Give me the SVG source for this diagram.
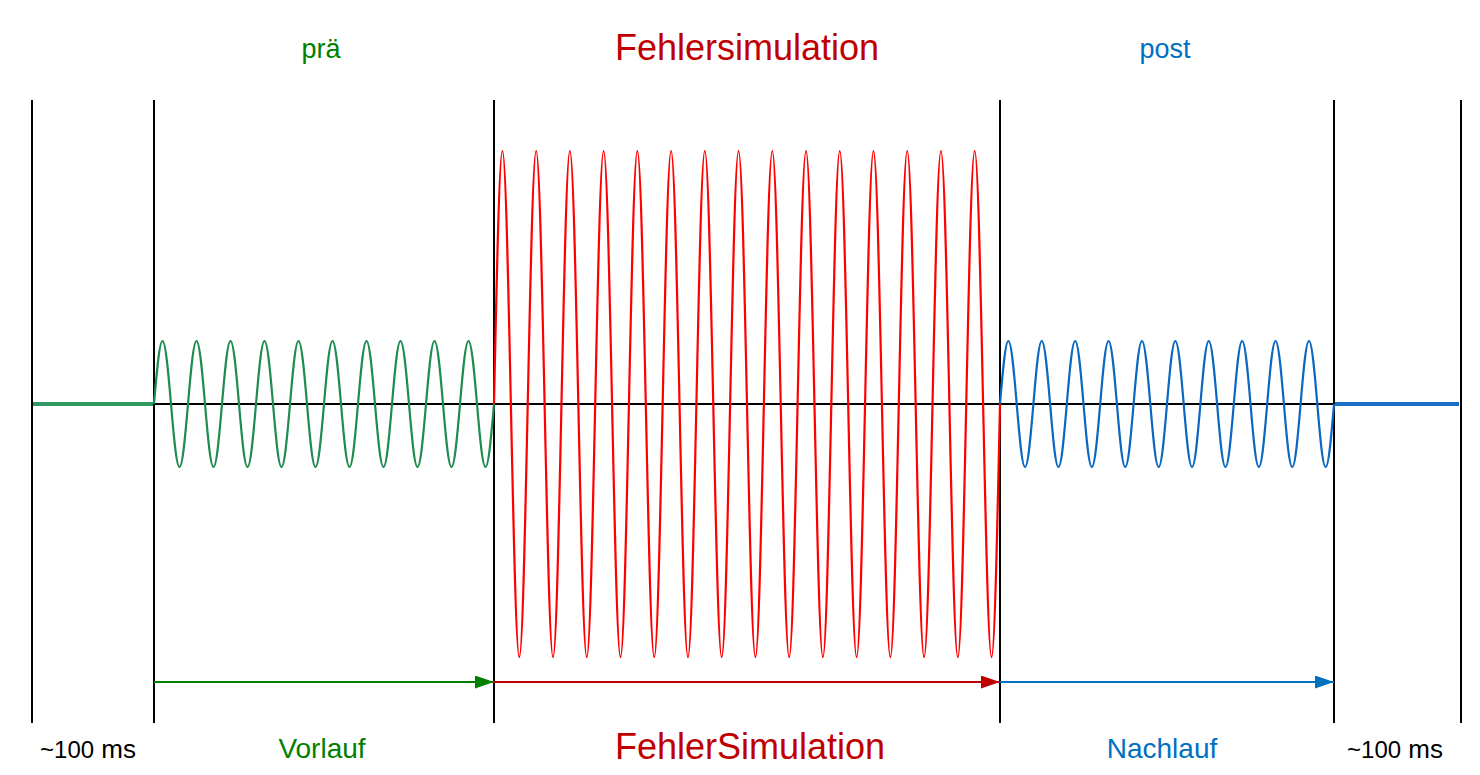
<svg xmlns="http://www.w3.org/2000/svg" width="1480" height="775" viewBox="0 0 1480 775">
<style>
.vl{stroke:#000;stroke-width:2;fill:none}
.ax{stroke:#000;stroke-width:2;fill:none}
.sine{fill:none;stroke-width:2.2;stroke-linejoin:round}
.flat{fill:none;stroke-width:4}
.t{font-family:"Liberation Sans",Arial,sans-serif;text-anchor:middle}
.g{fill:#008000}
.r{fill:#c00000}
.b{fill:#0070c0}
.k{fill:#000}
.arr{fill:none;stroke-width:2}
</style>
<defs>
<marker id="ahG" markerUnits="userSpaceOnUse" markerWidth="19" markerHeight="13" refX="19" refY="6.5" orient="auto"><path d="M0,0 L19,6.5 L0,13 z" fill="#008000"/></marker>
<marker id="ahR" markerUnits="userSpaceOnUse" markerWidth="19" markerHeight="13" refX="19" refY="6.5" orient="auto"><path d="M0,0 L19,6.5 L0,13 z" fill="#c00000"/></marker>
<marker id="ahB" markerUnits="userSpaceOnUse" markerWidth="19" markerHeight="13" refX="19" refY="6.5" orient="auto"><path d="M0,0 L19,6.5 L0,13 z" fill="#0070c0"/></marker>
</defs>
<rect width="1480" height="775" fill="#fff"/>
<g id="gridlines">
<line class="vl" x1="32" y1="100" x2="32" y2="723"/>
<line class="vl" x1="154" y1="100" x2="154" y2="723"/>
<line class="vl" x1="494" y1="100" x2="494" y2="723"/>
<line class="vl" x1="1000" y1="100" x2="1000" y2="723"/>
<line class="vl" x1="1334" y1="100" x2="1334" y2="723"/>
<line class="vl" x1="1461" y1="100" x2="1461" y2="723"/>
<line class="ax" x1="154" y1="404" x2="1334" y2="404"/>
</g>
<g id="pre-idle">
<line class="flat" x1="33" y1="404" x2="153" y2="404" stroke="#2e9960"/>
<text class="t k" x="88" y="758"><tspan font-size="24">~100</tspan><tspan font-size="26"> ms</tspan></text>
</g>
<g id="prae">
<path class="sine" stroke="#1e8c50" d="M154,404 c2.772,-32.27 5.424,-63 8.5,-63 c3.076,0 5.728,30.73 8.5,63 c2.772,32.27 5.424,63 8.5,63 c3.076,0 5.728,-30.73 8.5,-63 c2.772,-32.27 5.424,-63 8.5,-63 c3.076,0 5.728,30.73 8.5,63 c2.772,32.27 5.424,63 8.5,63 c3.076,0 5.728,-30.73 8.5,-63 c2.772,-32.27 5.424,-63 8.5,-63 c3.076,0 5.728,30.73 8.5,63 c2.772,32.27 5.424,63 8.5,63 c3.076,0 5.728,-30.73 8.5,-63 c2.772,-32.27 5.424,-63 8.5,-63 c3.076,0 5.728,30.73 8.5,63 c2.772,32.27 5.424,63 8.5,63 c3.076,0 5.728,-30.73 8.5,-63 c2.772,-32.27 5.424,-63 8.5,-63 c3.076,0 5.728,30.73 8.5,63 c2.772,32.27 5.424,63 8.5,63 c3.076,0 5.728,-30.73 8.5,-63 c2.772,-32.27 5.424,-63 8.5,-63 c3.076,0 5.728,30.73 8.5,63 c2.772,32.27 5.424,63 8.5,63 c3.076,0 5.728,-30.73 8.5,-63 c2.772,-32.27 5.424,-63 8.5,-63 c3.076,0 5.728,30.73 8.5,63 c2.772,32.27 5.424,63 8.5,63 c3.076,0 5.728,-30.73 8.5,-63 c2.772,-32.27 5.424,-63 8.5,-63 c3.076,0 5.728,30.73 8.5,63 c2.772,32.27 5.424,63 8.5,63 c3.076,0 5.728,-30.73 8.5,-63 c2.772,-32.27 5.424,-63 8.5,-63 c3.076,0 5.728,30.73 8.5,63 c2.772,32.27 5.424,63 8.5,63 c3.076,0 5.728,-30.73 8.5,-63 c2.772,-32.27 5.424,-63 8.5,-63 c3.076,0 5.728,30.73 8.5,63 c2.772,32.27 5.424,63 8.5,63 c3.076,0 5.728,-30.73 8.5,-63"/>
<text class="t g" x="321" y="58" font-size="27">prä</text>
<text class="t g" x="322" y="758" font-size="28">Vorlauf</text>
</g>
<g id="fehler">
<path class="sine" stroke="#ff0000" d="M494,404 c2.75,-129.61 5.381,-253 8.433,-253 c3.052,0 5.683,123.39 8.433,253 c2.75,129.61 5.381,253 8.433,253 c3.052,0 5.683,-123.39 8.433,-253 c2.75,-129.61 5.381,-253 8.433,-253 c3.052,0 5.683,123.39 8.433,253 c2.75,129.61 5.381,253 8.433,253 c3.052,0 5.683,-123.39 8.433,-253 c2.75,-129.61 5.381,-253 8.433,-253 c3.052,0 5.683,123.39 8.433,253 c2.75,129.61 5.381,253 8.433,253 c3.052,0 5.683,-123.39 8.433,-253 c2.75,-129.61 5.381,-253 8.433,-253 c3.052,0 5.683,123.39 8.433,253 c2.75,129.61 5.381,253 8.433,253 c3.052,0 5.683,-123.39 8.433,-253 c2.75,-129.61 5.381,-253 8.433,-253 c3.052,0 5.683,123.39 8.433,253 c2.75,129.61 5.381,253 8.433,253 c3.052,0 5.683,-123.39 8.433,-253 c2.75,-129.61 5.381,-253 8.433,-253 c3.052,0 5.683,123.39 8.433,253 c2.75,129.61 5.381,253 8.433,253 c3.052,0 5.683,-123.39 8.433,-253 c2.75,-129.61 5.381,-253 8.433,-253 c3.052,0 5.683,123.39 8.433,253 c2.75,129.61 5.381,253 8.433,253 c3.052,0 5.683,-123.39 8.433,-253 c2.75,-129.61 5.381,-253 8.433,-253 c3.052,0 5.683,123.39 8.433,253 c2.75,129.61 5.381,253 8.433,253 c3.052,0 5.683,-123.39 8.433,-253 c2.75,-129.61 5.381,-253 8.433,-253 c3.052,0 5.683,123.39 8.433,253 c2.75,129.61 5.381,253 8.433,253 c3.052,0 5.683,-123.39 8.433,-253 c2.75,-129.61 5.381,-253 8.433,-253 c3.052,0 5.683,123.39 8.433,253 c2.75,129.61 5.381,253 8.433,253 c3.052,0 5.683,-123.39 8.433,-253 c2.75,-129.61 5.381,-253 8.433,-253 c3.052,0 5.683,123.39 8.433,253 c2.75,129.61 5.381,253 8.433,253 c3.052,0 5.683,-123.39 8.433,-253 c2.75,-129.61 5.381,-253 8.433,-253 c3.052,0 5.683,123.39 8.433,253 c2.75,129.61 5.381,253 8.433,253 c3.052,0 5.683,-123.39 8.433,-253 c2.75,-129.61 5.381,-253 8.433,-253 c3.052,0 5.683,123.39 8.433,253 c2.75,129.61 5.381,253 8.433,253 c3.052,0 5.683,-123.39 8.433,-253 c2.75,-129.61 5.381,-253 8.433,-253 c3.052,0 5.683,123.39 8.433,253 c2.75,129.61 5.381,253 8.433,253 c3.052,0 5.683,-123.39 8.433,-253 c2.75,-129.61 5.381,-253 8.433,-253 c3.052,0 5.683,123.39 8.433,253 c2.75,129.61 5.381,253 8.433,253 c3.052,0 5.683,-123.39 8.433,-253"/>
<text class="t r" x="747" y="60" font-size="36">Fehlersimulation</text>
<text class="t r" x="750" y="759" font-size="36">FehlerSimulation</text>
</g>
<g id="post">
<path class="sine" stroke="#0a68c0" d="M1000,404 c2.723,-32.27 5.328,-63 8.35,-63 c3.022,0 5.627,30.73 8.35,63 c2.723,32.27 5.328,63 8.35,63 c3.022,0 5.627,-30.73 8.35,-63 c2.723,-32.27 5.328,-63 8.35,-63 c3.022,0 5.627,30.73 8.35,63 c2.723,32.27 5.328,63 8.35,63 c3.022,0 5.627,-30.73 8.35,-63 c2.723,-32.27 5.328,-63 8.35,-63 c3.022,0 5.627,30.73 8.35,63 c2.723,32.27 5.328,63 8.35,63 c3.022,0 5.627,-30.73 8.35,-63 c2.723,-32.27 5.328,-63 8.35,-63 c3.022,0 5.627,30.73 8.35,63 c2.723,32.27 5.328,63 8.35,63 c3.022,0 5.627,-30.73 8.35,-63 c2.723,-32.27 5.328,-63 8.35,-63 c3.022,0 5.627,30.73 8.35,63 c2.723,32.27 5.328,63 8.35,63 c3.022,0 5.627,-30.73 8.35,-63 c2.723,-32.27 5.328,-63 8.35,-63 c3.022,0 5.627,30.73 8.35,63 c2.723,32.27 5.328,63 8.35,63 c3.022,0 5.627,-30.73 8.35,-63 c2.723,-32.27 5.328,-63 8.35,-63 c3.022,0 5.627,30.73 8.35,63 c2.723,32.27 5.328,63 8.35,63 c3.022,0 5.627,-30.73 8.35,-63 c2.723,-32.27 5.328,-63 8.35,-63 c3.022,0 5.627,30.73 8.35,63 c2.723,32.27 5.328,63 8.35,63 c3.022,0 5.627,-30.73 8.35,-63 c2.723,-32.27 5.328,-63 8.35,-63 c3.022,0 5.627,30.73 8.35,63 c2.723,32.27 5.328,63 8.35,63 c3.022,0 5.627,-30.73 8.35,-63 c2.723,-32.27 5.328,-63 8.35,-63 c3.022,0 5.627,30.73 8.35,63 c2.723,32.27 5.328,63 8.35,63 c3.022,0 5.627,-30.73 8.35,-63"/>
<text class="t b" x="1165" y="58" font-size="27">post</text>
<text class="t b" x="1162" y="758" font-size="28">Nachlauf</text>
</g>
<g id="post-idle">
<line class="flat" x1="1335" y1="404" x2="1459" y2="404" stroke="#1a6fc4"/>
<text class="t k" x="1395" y="758"><tspan font-size="24">~100</tspan><tspan font-size="26"> ms</tspan></text>
</g>
<g id="connectors">
<line class="arr" x1="154" y1="682" x2="494" y2="682" stroke="#008000" marker-end="url(#ahG)"/>
<line class="arr" x1="494" y1="682" x2="1000" y2="682" stroke="#c00000" marker-end="url(#ahR)"/>
<line class="arr" x1="1000" y1="682" x2="1334" y2="682" stroke="#0070c0" marker-end="url(#ahB)"/>
</g>
</svg>
